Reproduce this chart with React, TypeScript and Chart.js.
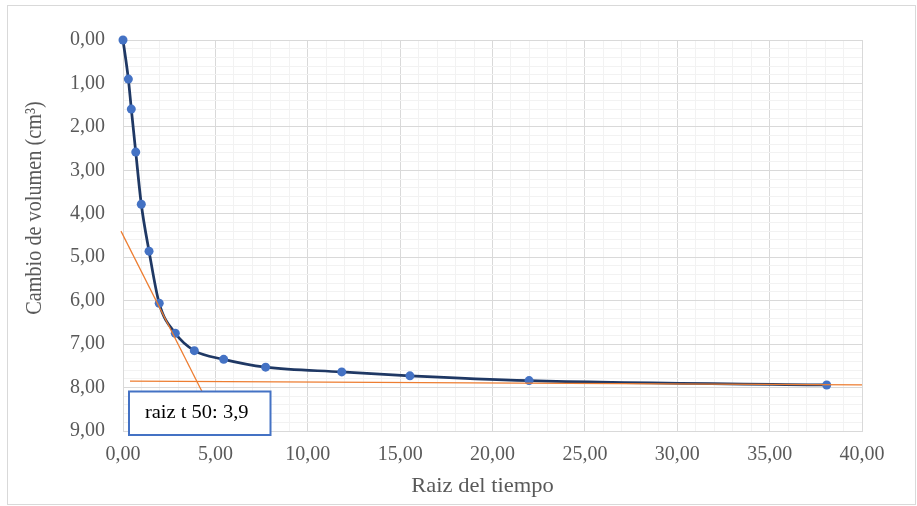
import { useEffect, useRef } from 'react';
import { Chart, registerables } from 'chart.js';

Chart.register(...registerables);

// Consolidation reading: square root of time vs. volume change
const sqrtTime = [0, 0.29, 0.45, 0.69, 0.99, 1.41, 1.96, 2.83, 3.86, 5.45, 7.72, 11.84, 15.53, 21.98, 38.09];
const volumeChange = [0, 0.9, 1.59, 2.58, 3.78, 4.86, 6.06, 6.75, 7.15, 7.35, 7.53, 7.64, 7.73, 7.84, 7.94];

// Construction lines used to read t50
const steepTangentX = [-0.11, 5.0];
const steepTangentY = [4.4, 8.7];
const flatTangentX = [0.38, 40];
const flatTangentY = [7.85, 7.94];

const t50 = 3.9;

const xTitle = 'Raiz del tiempo';
const yTitle = 'Cambio de volumen (cm³)';

const FONT = '"Liberation Serif", "Times New Roman", serif';
const GRID_MAJOR = '#D9D9D9';
const GRID_MINOR = '#F2F2F2';
const TEXT = '#595959';
// the text in this figure is slightly condensed vertically
const TEXT_Y_SCALE = 0.9;

const fmt = (v: number, d = 2) => v.toFixed(d).replace('.', ',');
const isMultiple = (v: number, step: number) => {
  const r = v / step;
  return Math.abs(r - Math.round(r)) < 1e-6;
};
const toPoints = (xs: number[], ys: number[]) => xs.map((x, i) => ({ x, y: ys[i] }));

const drawText = (
  ctx: CanvasRenderingContext2D,
  text: string,
  x: number,
  y: number,
  rotation = 0
) => {
  ctx.save();
  ctx.translate(x, y);
  ctx.scale(1, TEXT_Y_SCALE);
  if (rotation) ctx.rotate(rotation);
  ctx.textAlign = 'center';
  ctx.textBaseline = 'middle';
  ctx.fillText(text, 0, 0);
  ctx.restore();
};

const decorations = {
  id: 'decorations',
  afterDraw(chart: Chart) {
    const { ctx } = chart;
    ctx.save();

    // chart frame
    ctx.strokeStyle = '#D9D9D9';
    ctx.lineWidth = 1;
    ctx.strokeRect(7.5, 5.5, 908, 499);

    // axis titles
    ctx.fillStyle = TEXT;
    ctx.font = `22.5px ${FONT}`;
    drawText(ctx, xTitle, 482.5, 487);
    drawText(ctx, yTitle, 35, 208, -Math.PI / 2);

    // t50 label box
    const bx = 129, by = 391.5, bw = 141.5, bh = 43.5;
    ctx.fillStyle = '#FFFFFF';
    ctx.fillRect(bx, by, bw, bh);
    ctx.strokeStyle = '#4472C4';
    ctx.lineWidth = 2;
    ctx.strokeRect(bx, by, bw, bh);
    ctx.fillStyle = '#000000';
    ctx.font = `20.5px ${FONT}`;
    drawText(ctx, `raiz t 50: ${fmt(t50, 1)}`, bx + bw / 2 - 3, by + bh / 2);

    ctx.restore();
  },
};

export default function App() {
  const canvasRef = useRef<HTMLCanvasElement | null>(null);

  useEffect(() => {
    const canvas = canvasRef.current;
    if (!canvas) return;
    const chart = new Chart(canvas, {
      type: 'scatter',
      data: {
        datasets: [
          {
            data: toPoints(flatTangentX, flatTangentY),
            showLine: true,
            borderColor: '#ED7D31',
            borderWidth: 1.25,
            pointRadius: 0,
            clip: false as any,
            order: 0,
          },
          {
            data: toPoints(steepTangentX, steepTangentY),
            showLine: true,
            borderColor: '#ED7D31',
            borderWidth: 1.25,
            pointRadius: 0,
            clip: false as any,
            order: 0,
          },
          {
            data: toPoints(sqrtTime, volumeChange),
            showLine: true,
            borderColor: '#1F3864',
            borderWidth: 2.75,
            pointRadius: 4.5,
            pointHoverRadius: 4.5,
            pointBackgroundColor: '#4472C4',
            pointBorderColor: '#4472C4',
            pointBorderWidth: 0,
            cubicInterpolationMode: 'monotone',
            clip: false as any,
            order: 1,
          },
        ],
      },
      options: {
        animation: false,
        responsive: false,
        events: [],
        layout: { padding: { left: 0, top: 40, right: 55, bottom: 0 } },
        plugins: {
          legend: { display: false },
          tooltip: { enabled: false },
        },
        scales: {
          x: {
            type: 'linear',
            min: 0,
            max: 40,
            afterFit: (s: any) => {
              s.height = 75;
            },
            ticks: {
              stepSize: 1,
              autoSkip: false,
              maxRotation: 0,
              minRotation: 0,
              padding: 12,
              color: TEXT,
              font: { family: FONT, size: 20 },
              callback: (v: any) => (isMultiple(Number(v), 5) ? fmt(Number(v)) : ''),
            },
            grid: {
              drawTicks: false,
              lineWidth: 1,
              color: (c: any) => (isMultiple(c.tick?.value ?? 0, 5) ? GRID_MAJOR : GRID_MINOR),
            },
            border: { display: true, color: GRID_MAJOR },
          },
          y: {
            type: 'linear',
            reverse: true,
            min: 0,
            max: 9,
            afterFit: (s: any) => {
              s.width = 123;
            },
            ticks: {
              stepSize: 0.2,
              autoSkip: false,
              padding: 18,
              color: TEXT,
              font: { family: FONT, size: 20 },
              callback: (v: any) => (isMultiple(Number(v), 1) ? fmt(Number(v)) : ''),
            },
            grid: {
              drawTicks: false,
              lineWidth: 1,
              color: (c: any) => (isMultiple(c.tick?.value ?? 0, 1) ? GRID_MAJOR : GRID_MINOR),
            },
            border: { display: true, color: GRID_MAJOR },
          },
        },
      },
      plugins: [decorations],
    });
    return () => chart.destroy();
  }, []);

  return (
    <div style={{ position: 'fixed', left: 0, top: 0, width: 917, height: 506, background: '#FFFFFF' }}>
      <canvas ref={canvasRef} width={917} height={506} style={{ display: 'block', width: 917, height: 506 }} />
    </div>
  );
}
